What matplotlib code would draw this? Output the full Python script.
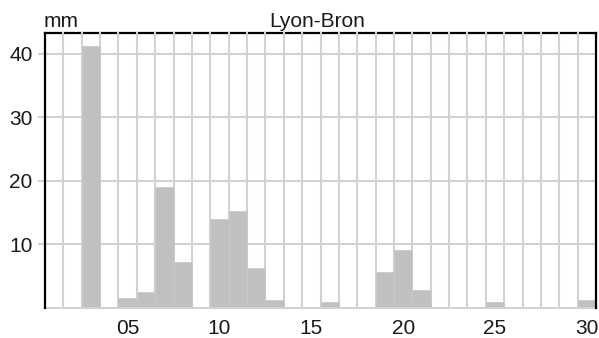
import numpy as np
import matplotlib
matplotlib.use("Agg")
import matplotlib.pyplot as plt

# Daily precipitation (mm), Lyon-Bron
days = list(range(1, 31))
precip = [0, 0, 41.2, 0, 1.5, 2.5, 19.0, 7.2, 0, 14.0,
          15.2, 6.3, 1.2, 0, 0, 0.8, 0, 0, 5.6, 9.1,
          2.7, 0, 0, 0, 0.8, 0, 0, 0, 0, 1.2]
x_tick_days = [5, 10, 15, 20, 25, 30]
x_tick_labels = ["05", "10", "15", "20", "25", "30"]
y_ticks = [10, 20, 30, 40]
title = "Lyon-Bron"
unit = "mm"

plt.rcParams["font.family"] = ["Liberation Sans", "DejaVu Sans"]
FS = 15
BAR = "#c0c0c0"
GRID = "#d2d2d2"
TXT = "#1a1a1a"

W, H = 599, 338
fig = plt.figure(figsize=(W / 100, H / 100), dpi=100)
left, right, top, bottom = 45, 596, 33, 307.5
ax = fig.add_axes([left / W, 1 - bottom / H, (right - left) / W, (bottom - top) / H])

ax.set_xlim(days[0] - 0.5, days[-1] + 0.5)
ax.set_ylim(0, 43.3)

# day separators and value grid sit behind the bars
bounds = np.arange(days[0] + 0.5, days[-1] + 0.5)
for b in bounds:
    ax.axvline(b, color=GRID, lw=1.5, zorder=0.5)
for v in y_ticks:
    ax.axhline(v, color=GRID, lw=1.5, zorder=0.5)

ax.bar(days, precip, width=1.0, color=BAR, edgecolor="#cacaca",
       linewidth=0.6, zorder=1)

# separators break through the top frame line
ax.vlines(bounds, 0.985, 1.004, transform=ax.get_xaxis_transform(),
          color=GRID, lw=1.5, zorder=4, clip_on=False)

for side in ("left", "top", "right"):
    ax.spines[side].set_color("#000000")
    ax.spines[side].set_linewidth(1.6)
    ax.spines[side].set_zorder(3)
ax.spines["bottom"].set_color(GRID)
ax.spines["bottom"].set_linewidth(1.5)

ax.set_yticks(y_ticks)
ax.set_yticklabels([str(v) for v in y_ticks], fontsize=FS, color=TXT)
ax.tick_params(axis="y", length=5, width=1.5, color=GRID, pad=4)
ax.set_xticks(x_tick_days)
ax.set_xticklabels(x_tick_labels, fontsize=FS, color=TXT)
ax.tick_params(axis="x", length=0, pad=8)

fig.text(left / W - 0.002, 1 - 27 / H, unit, fontsize=FS, ha="left", va="baseline", color=TXT)
fig.text((left + right) / 2 / W - 0.005, 1 - 27 / H, title, fontsize=FS, ha="center", va="baseline", color=TXT)

fig.savefig("out.png", dpi=100)
